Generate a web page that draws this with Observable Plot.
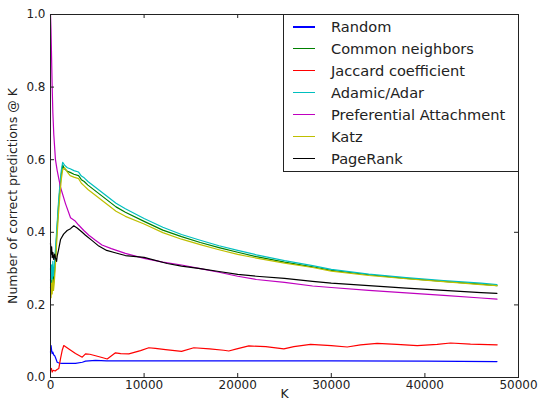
<!DOCTYPE html>
<html><head><meta charset="utf-8">
<script src="https://cdn.jsdelivr.net/npm/d3@7"></script>
<script src="https://cdn.jsdelivr.net/npm/@observablehq/plot@0.6"></script>
<style>
body{margin:0;background:#fff;}
#wrap{position:relative;width:539px;height:413px;font-family:"DejaVu Sans",sans-serif;}
#legend{position:absolute;left:283px;top:14px;width:236px;height:158px;border:1px solid #222;background:#fff;box-sizing:border-box;}
.row{position:absolute;left:0;height:20px;width:100%;}
.sw{position:absolute;left:9px;top:9px;width:22px;height:1.5px;}
.lab{position:absolute;left:47px;top:0;line-height:20px;font-size:14.6px;color:#222;white-space:nowrap;}
</style></head>
<body>
<div id="wrap"><div id="legend"></div></div>
<script>
const names = ["Random","Common neighbors","Jaccard coefficient","Adamic/Adar","Preferential Attachment","Katz","PageRank"];
const colors = ["#0000ff","#008000","#ff0000","#00bfbf","#bf00bf","#bfbf00","#000000"];
const xTicks = [0,10000,20000,30000,40000,50000];
const yTicks = [0,0.2,0.4,0.6,0.8,1.0];
const xLabel = "K";
const yLabel = "Number of correct predictions @ K";

const kRandom = [0,60,120,180,250,350,450,530,715,900,1200,2000,2670,3400,3740,4810,6000,10000,20000,30000,40000,47700];
const random  = [0.07,0.088,0.075,0.066,0.07,0.062,0.06,0.055,0.042,0.04,0.039,0.039,0.039,0.042,0.045,0.047,0.046,0.046,0.046,0.046,0.045,0.044];

const kNeighbor = [0,60,120,180,250,320,400,550,700,850,1000,1150,1300,1500,1800,2100,2500,3000,3300,3600,4000,5000,6000,7000,8000,10000,12000,14000,16000,18000,20000,22000,25000,28000,30000,34000,38000,42000,46000,47700];
const adamic = [0.30,0.27,0.31,0.26,0.32,0.28,0.30,0.36,0.42,0.48,0.53,0.57,0.593,0.585,0.578,0.575,0.57,0.566,0.555,0.55,0.54,0.52,0.50,0.48,0.465,0.438,0.414,0.394,0.378,0.363,0.35,0.338,0.322,0.308,0.298,0.285,0.275,0.267,0.26,0.256];
const common = [0.27,0.25,0.29,0.24,0.29,0.26,0.28,0.34,0.41,0.47,0.52,0.56,0.585,0.575,0.568,0.565,0.56,0.556,0.545,0.54,0.53,0.51,0.49,0.47,0.455,0.43,0.406,0.388,0.372,0.358,0.345,0.333,0.318,0.305,0.295,0.283,0.273,0.265,0.257,0.253];
const katz   = [0.25,0.22,0.26,0.23,0.27,0.24,0.26,0.32,0.39,0.45,0.50,0.545,0.572,0.578,0.566,0.556,0.552,0.548,0.535,0.528,0.518,0.498,0.478,0.458,0.444,0.423,0.399,0.381,0.366,0.352,0.339,0.329,0.315,0.303,0.293,0.281,0.272,0.264,0.256,0.253];

const kJaccard = [0,100,180,300,500,700,890,1070,1250,1420,2000,2670,3390,3740,4200,4810,5500,6060,6940,7500,8370,9620,10500,11200,12290,14000,15310,17000,18500,19050,19800,21190,23000,24930,26000,27780,30000,31700,33120,34900,37000,39180,41310,42740,44870,47720];
const jaccard  = [0.02,0.025,0.015,0.02,0.018,0.022,0.025,0.052,0.075,0.088,0.078,0.066,0.056,0.065,0.064,0.06,0.055,0.051,0.068,0.066,0.065,0.074,0.082,0.08,0.077,0.072,0.082,0.079,0.075,0.073,0.078,0.087,0.085,0.079,0.085,0.091,0.088,0.084,0.09,0.094,0.091,0.088,0.091,0.095,0.092,0.09];

const kPref = [0,50,100,180,250,350,530,715,1070,1600,2140,2600,3000,3560,4100,4800,5500,6500,8000,10000,12000,14000,16000,18000,20000,22000,25000,28000,30000,34000,38000,42000,46000,47700];
const pref  = [1.0,0.96,0.9,0.8,0.73,0.67,0.6,0.57,0.524,0.479,0.44,0.432,0.42,0.405,0.392,0.378,0.365,0.355,0.342,0.328,0.318,0.31,0.30,0.29,0.279,0.27,0.262,0.252,0.248,0.24,0.233,0.226,0.219,0.216];

const kPage = [0,60,120,180,250,350,450,530,650,715,850,1070,1400,1780,2140,2490,2850,3390,3740,4455,5160,6000,7000,8000,10000,12470,14000,16000,18000,20000,22000,25000,28000,30000,34000,38000,42000,46000,47700];
const pagerank = [0.37,0.34,0.36,0.33,0.345,0.325,0.34,0.33,0.32,0.335,0.35,0.38,0.395,0.405,0.41,0.418,0.412,0.40,0.392,0.377,0.362,0.35,0.343,0.336,0.331,0.314,0.307,0.30,0.292,0.284,0.279,0.273,0.265,0.26,0.253,0.246,0.24,0.234,0.232];

const series = [[kRandom, random],[kNeighbor, common],[kJaccard, jaccard],[kNeighbor, adamic],[kPref, pref],[kNeighbor, katz],[kPage, pagerank]];
const rows = series.flatMap(([ks, vs], i) => ks.map((k, j) => ({k, v: vs[j], name: names[i]})));

const chart = Plot.plot({
  width: 539, height: 413,
  marginTop: 14, marginRight: 21, marginBottom: 36, marginLeft: 50,
  style: {fontFamily: "'DejaVu Sans', sans-serif", fontSize: "12px", color: "#222", background: "#fff"},
  x: {domain: [0, 50000], ticks: xTicks, tickFormat: d => String(d), tickSize: 0, tickPadding: 3, label: null},
  y: {domain: [0, 1], ticks: yTicks, tickFormat: d3.format(".1f"), tickSize: 0, tickPadding: 5, label: null},
  color: {domain: names, range: colors},
  marks: [
    Plot.line(rows, {x: "k", y: "v", z: "name", stroke: "name", strokeWidth: 1.2}),
    Plot.tickX(xTicks, {x: d => d, insetTop: 359, stroke: "#222"}),
    Plot.tickX(xTicks, {x: d => d, insetBottom: 359, stroke: "#222"}),
    Plot.tickY(yTicks, {y: d => d, insetRight: 464, stroke: "#222"}),
    Plot.tickY(yTicks, {y: d => d, insetLeft: 464, stroke: "#222"}),
    Plot.frame({stroke: "#222"}),
    Plot.text([xLabel], {frameAnchor: "bottom", dy: 20.5, fontSize: 12.5, fill: "#222"}),
    Plot.text([yLabel], {frameAnchor: "left", textAnchor: "middle", dx: -38, rotate: -90, fontSize: 12.5, fill: "#222"})
  ]
});
const wrap = document.getElementById("wrap");
wrap.insertBefore(chart, wrap.firstChild);

const legend = document.getElementById("legend");
names.forEach((n, i) => {
  const row = document.createElement("div");
  row.className = "row";
  row.style.top = (2 + i * 21.95) + "px";
  const sw = document.createElement("div");
  sw.className = "sw";
  sw.style.background = colors[i];
  const lab = document.createElement("div");
  lab.className = "lab";
  lab.textContent = n;
  row.appendChild(sw); row.appendChild(lab);
  legend.appendChild(row);
});
</script>
</body></html>
